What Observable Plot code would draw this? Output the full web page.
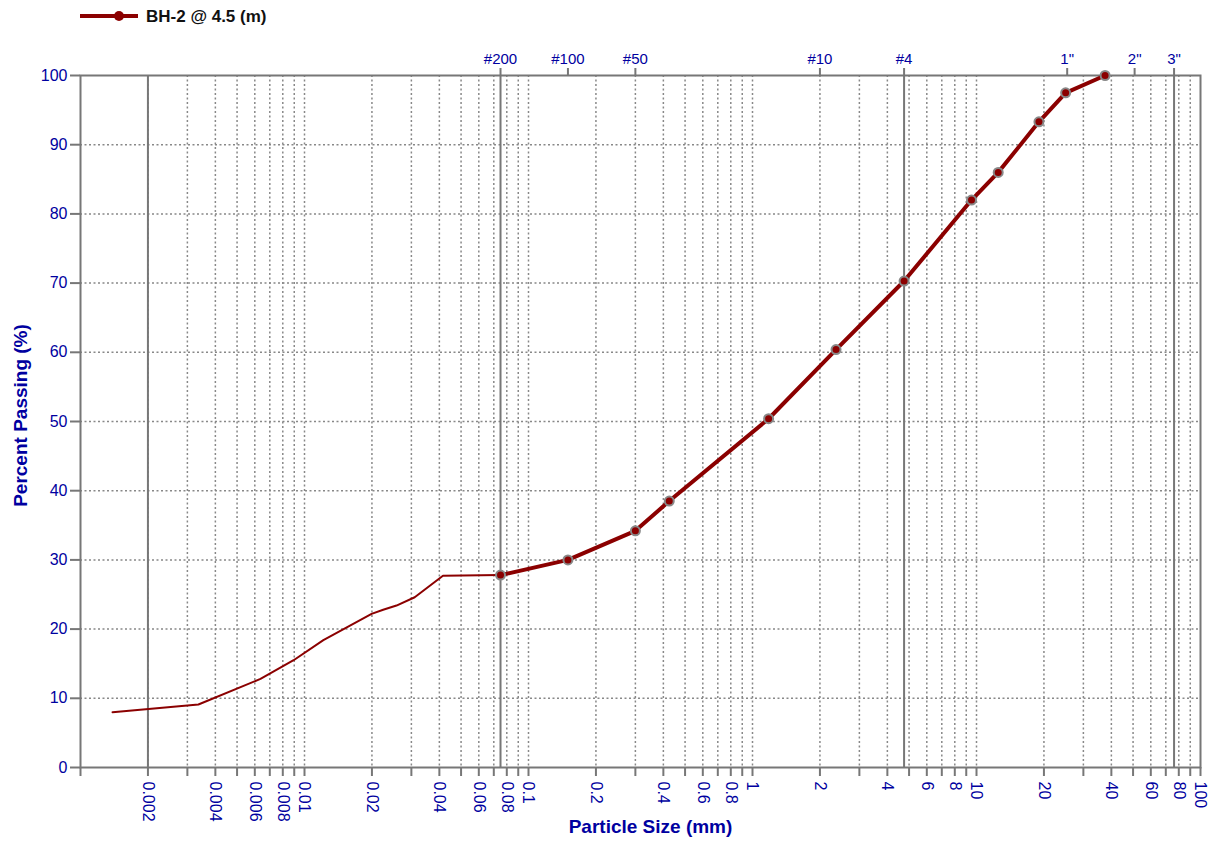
<!DOCTYPE html>
<html><head><meta charset="utf-8">
<script src="https://cdn.jsdelivr.net/npm/d3@7"></script>
<script src="https://cdn.jsdelivr.net/npm/@observablehq/plot@0.6"></script>
<style>
body{margin:0;background:#fff;font-family:"Liberation Sans",Arial,sans-serif}
#legend{height:32px;display:block}
#legend svg{display:block}
#chart svg{display:block}
</style></head><body>
<div id="legend"></div>
<div id="chart"></div>
<script>
// Sieve analysis (thick line with markers)
const sieveSize = [0.075, 0.15, 0.3, 0.425, 1.18, 2.36, 4.75, 9.5, 12.5, 19, 25, 37.5];
const sievePassing = [27.8, 30.0, 34.2, 38.5, 50.4, 60.4, 70.3, 82.0, 86.0, 93.3, 97.5, 100];
// Hydrometer analysis (thin line)
const hydroSize = [0.00139, 0.00336, 0.00636, 0.00894, 0.01214, 0.01993, 0.02245, 0.02574, 0.03105, 0.0415, 0.075];
const hydroPassing = [8.0, 9.1, 12.8, 15.5, 18.4, 22.2, 22.8, 23.4, 24.6, 27.7, 27.8];
// Top axis sieve labels
const sieveNames = ["#200", "#100", "#50", "#10", "#4", '1"', '2"', '3"'];
const sieveOpenings = [0.075, 0.15, 0.3, 2.0, 4.75, 25.4, 50.8, 76.2];
// Solid classification boundaries
const boundaries = [0.002, 0.075, 4.75, 76.2];
// Bottom labelled ticks
const xTickValues = [0.002, 0.004, 0.006, 0.008, 0.01, 0.02, 0.04, 0.06, 0.08, 0.1, 0.2, 0.4, 0.6, 0.8, 1, 2, 4, 6, 8, 10, 20, 40, 60, 80, 100];
const xTickLabels = ["0.002","0.004","0.006","0.008","0.01","0.02","0.04","0.06","0.08","0.1","0.2","0.4","0.6","0.8","1","2","4","6","8","10","20","40","60","80","100"];
const yTickValues = [0, 10, 20, 30, 40, 50, 60, 70, 80, 90, 100];
const seriesName = "BH-2 @ 4.5 (m)";
const xTitle = "Particle Size (mm)";
const yTitle = "Percent Passing (%)";

const lineColor = "#8b0000";
const textBlue = "#0000a0";
const gray = "#777";

// minor grid positions (multiples of each decade)
const decades = [0.001, 0.01, 0.1, 1, 10];
const minorX = [];
for (const d of decades) for (let k = 1; k <= 9; k++) minorX.push(+(d * k).toPrecision(3));
minorX.push(100);
const gridX = minorX.filter(v => v > 0.001 && v < 100);
const gridY = yTickValues.filter(v => v > 0 && v < 100);

const sieve = sieveSize.map((s, i) => ({size: s, passing: sievePassing[i]}));
const hydro = hydroSize.map((s, i) => ({size: s, passing: hydroPassing[i]}));
const bottomLabels = xTickValues.map((v, i) => ({v, label: xTickLabels[i]}));
const topLabels = sieveOpenings.map((v, i) => ({v, label: sieveNames[i]}));

// legend
document.getElementById("legend").innerHTML =
  `<svg width="400" height="32"><line x1="80" x2="138" y1="16" y2="16" stroke="${lineColor}" stroke-width="4"/>` +
  `<circle cx="119" cy="16" r="5" fill="${lineColor}"/>` +
  `<text x="146" y="22" font-family="Liberation Sans, Arial, sans-serif" font-weight="bold" font-size="17" fill="#111">${seriesName}</text></svg>`;

const chart = Plot.plot({
  width: 1209,
  height: 810,
  marginLeft: 80,
  marginRight: 9,
  marginTop: 43,
  marginBottom: 75,
  x: {type: "log", domain: [0.001, 100]},
  y: {domain: [0, 100]},
  style: {fontFamily: "Liberation Sans, Arial, sans-serif", fontSize: "16px", background: "#fff"},
  marks: [
    Plot.ruleX(gridX, {stroke: "#888", strokeWidth: 1.5, strokeDasharray: "2,2.5"}),
    Plot.ruleY(gridY, {stroke: "#888", strokeWidth: 1.5, strokeDasharray: "2,2.5"}),
    Plot.ruleX(boundaries, {stroke: gray, strokeWidth: 2}),
    Plot.frame({stroke: gray, strokeWidth: 2}),
    Plot.axisX({anchor: "bottom", ticks: minorX, tickSize: 9, tickFormat: () => "", stroke: gray, strokeWidth: 2, label: null}),
    Plot.axisX({anchor: "top", ticks: sieveOpenings, tickSize: 8, tickFormat: () => "", stroke: gray, strokeWidth: 2, label: null}),
    Plot.text(bottomLabels, {x: "v", text: "label", frameAnchor: "bottom", rotate: 90, textAnchor: "start", lineAnchor: "middle", dy: 14, fill: textBlue, fontSize: 16}),
    Plot.text(topLabels, {x: "v", text: "label", frameAnchor: "top", lineAnchor: "bottom", dy: -12, fill: textBlue, fontSize: 15}),
    Plot.axisY({ticks: yTickValues, tickSize: 10, tickPadding: 3, stroke: gray, strokeWidth: 2, fill: textBlue, fontSize: 16, label: null}),
    Plot.text([xTitle], {frameAnchor: "bottom", dy: 65, dx: 10, fontWeight: "bold", fontSize: 19, fill: textBlue}),
    Plot.text([yTitle], {frameAnchor: "left", textAnchor: "middle", rotate: -90, dx: -60, dy: -6, fontWeight: "bold", fontSize: 19, fill: textBlue}),
    Plot.line(hydro, {x: "size", y: "passing", stroke: lineColor, strokeWidth: 2}),
    Plot.line(sieve, {x: "size", y: "passing", stroke: lineColor, strokeWidth: 4}),
    Plot.dot(sieve, {x: "size", y: "passing", r: 4.5, fill: lineColor, stroke: "#888", strokeWidth: 2})
  ]
});
document.getElementById("chart").appendChild(chart);
</script>
</body></html>
